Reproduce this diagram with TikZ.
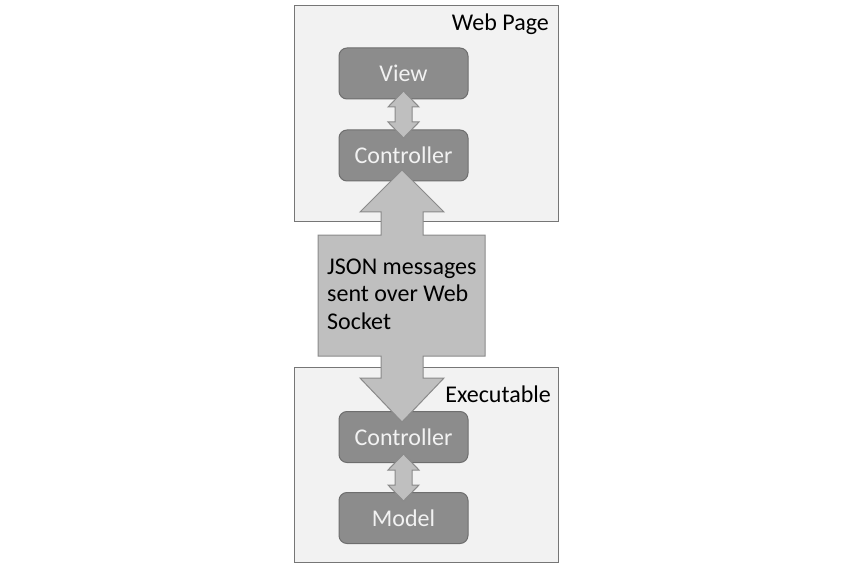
\documentclass[tikz,border=0pt]{standalone}
\usepackage{fontspec}
\setmainfont{Carlito}
\usetikzlibrary{calc}
\definecolor{contfill}{HTML}{F2F2F2}
\definecolor{contline}{HTML}{767676}
\definecolor{boxfill}{HTML}{8C8C8C}
\definecolor{boxline}{HTML}{6E6E6E}
\definecolor{boxtext}{HTML}{F2F2F2}
\definecolor{arrfill}{HTML}{BFBFBF}
\definecolor{arrline}{HTML}{8A8A8A}
\tikzset{
  container/.style={draw=contline, fill=contfill, line width=1bp, rectangle, inner sep=0pt},
  compbox/.style={draw=boxline, fill=boxfill, line width=1bp, rounded corners=8bp,
    minimum width=129bp, minimum height=51bp, inner sep=0pt, text=boxtext,
    font=\fontsize{24bp}{28bp}\selectfont},
  contlabel/.style={inner sep=0pt, font=\fontsize{24bp}{28bp}\selectfont, text=black},
  arrowshape/.style={draw=arrline, fill=arrfill, line width=1bp, line join=miter},
}
\begin{document}
\begin{tikzpicture}[x=1bp,y=-1bp]
\useasboundingbox (0,0) rectangle (861,564);
% containers
\node[container, minimum width=264bp, minimum height=216bp, anchor=north west] (web) at (294,5) {};
\node[container, minimum width=264bp, minimum height=195bp, anchor=north west] (exe) at (294,367) {};
\node[contlabel, anchor=base east] (weblabel) at (549,31) {Web Page};
\node[contlabel, anchor=base east] (exelabel) at (551,402) {Executable};
% components
\node[compbox] (view) at (403.5,73.5) {View};
\node[compbox] (ctrlA) at (403.5,155.5) {Controller};
\node[compbox] (ctrlB) at (403.5,437) {Controller};
\node[compbox] (model) at (403.5,518) {Model};
% small double arrows between components
\coordinate (midA) at ($(view.south)!0.5!(ctrlA.north)$);
\coordinate (midB) at ($(ctrlB.south)!0.5!(model.north)$);
\foreach \m in {midA,midB}{
  \draw[arrowshape, shift={(\m)}] (0,-23.5) -- (15.5,-7.5) -- (8.5,-7.5) -- (8.5,7.5)
    -- (15.5,7.5) -- (0,23.5) -- (-15.5,7.5) -- (-8.5,7.5) -- (-8.5,-7.5)
    -- (-15.5,-7.5) -- cycle;
}
% big double arrow with callout
\coordinate (topTip) at (402,170);
\coordinate (botTip) at (402,422);
\draw[arrowshape] (topTip) -- (444,212) -- (423,212) -- (423,235) -- (485,235) -- (485,356)
  -- (423,356) -- (423,378) -- (444,378) -- (botTip) -- (360,378) -- (381,378)
  -- (381,356) -- (318,356) -- (318,235) -- (381,235) -- (381,212) -- (360,212) -- cycle;
\node[inner sep=0pt, anchor=west, align=left, text=black,
  font=\fontsize{24bp}{27.5bp}\selectfont] (msg) at (327,294)
  {JSON messages\\sent over Web\\Socket};
\end{tikzpicture}
\end{document}
